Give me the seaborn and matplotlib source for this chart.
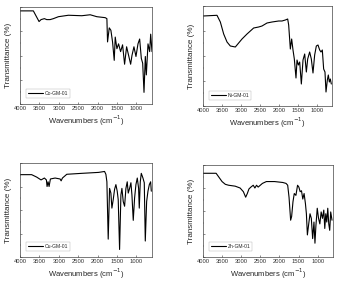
import numpy as np
import pandas as pd
import matplotlib
matplotlib.use("Agg")
import matplotlib.pyplot as plt
from matplotlib.ticker import MultipleLocator
import seaborn as sns

# FTIR spectra (wavenumber, transmittance in % of axis height)
co_wn = [4000, 3656, 3509, 3458, 3372, 3311, 3225, 3140, 3010, 2752, 2408, 2192, 2020, 1805, 1762,
         1745, 1701, 1659, 1616, 1573, 1547, 1504, 1461, 1409, 1358, 1306, 1254, 1202, 1150, 1116,
         1065, 1013, 961, 918, 875, 840, 806, 772, 746, 703, 660, 634, 600]
co_t = [96, 96, 85, 87, 88, 87, 87, 88, 90, 91.5, 91, 92, 90, 89, 88,
        64, 78.5, 76, 64, 45, 69, 57, 62, 54, 61, 41, 59, 50, 41, 50,
        59, 49, 62, 67, 47, 42, 12, 49, 30, 62, 54, 72, 54]

ni_wn = [4000, 3631, 3543, 3455, 3367, 3280, 3148, 3060, 2972, 2840, 2665, 2533, 2445, 2313, 2181,
         2006, 1918, 1830, 1768, 1742, 1698, 1663, 1628, 1593, 1549, 1522, 1487, 1452, 1408, 1364,
         1320, 1276, 1241, 1189, 1145, 1101, 1057, 1013, 969, 925, 890, 855, 820, 785, 758,
         723, 697, 670, 644, 618]
ni_t = [90, 90.7, 84, 72, 64, 60, 59, 63, 67, 72, 78, 79, 80, 83, 84,
        85, 85, 86, 87, 81, 57, 67, 56, 47, 28, 46, 41, 44, 22, 46,
        52, 34, 47, 54, 47, 33, 51, 60, 61, 56, 54, 56, 37, 34, 14,
        26, 31, 24, 27, 22]

cu_wn = [4000, 3700, 3570, 3458, 3372, 3320, 3303, 3277, 3251, 3217, 3096, 2967, 2941, 2907, 2795,
         2408, 1977, 1822, 1788, 1762, 1728, 1693, 1659, 1633, 1599, 1564, 1530, 1496, 1470, 1435,
         1401, 1375, 1341, 1306, 1272, 1238, 1212, 1177, 1143, 1117, 1083, 1048, 1014, 979, 945,
         928, 902, 876, 833, 799, 773, 738, 704, 669, 635, 618]
cu_t = [87.6, 87.6, 85, 82, 84, 82, 75, 80, 75, 83, 84, 83, 81, 84, 88,
        89, 90, 91, 88, 80, 19, 73, 68, 52, 61, 72, 77, 70, 61, 8,
        66, 73, 59, 54, 73, 80, 68, 73, 79, 66, 39, 63, 77, 84, 73,
        52, 80, 89, 84, 79, 17, 59, 70, 77, 80, 70]

zn_wn = [4000, 3657, 3588, 3502, 3416, 3330, 3159, 3030, 2944, 2884, 2841, 2798, 2747, 2686, 2643,
         2600, 2557, 2446, 2343, 2128, 1914, 1828, 1785, 1750, 1708, 1682, 1647, 1613, 1570, 1527,
         1493, 1459, 1424, 1390, 1356, 1321, 1296, 1270, 1235, 1201, 1167, 1132, 1098, 1072, 1047,
         1012, 978, 944, 910, 875, 841, 815, 789, 763, 737, 711, 686, 660, 626]
zn_t = [91, 91, 87, 82, 79, 78, 77, 75, 71, 65, 69, 74, 76, 78, 75,
        78, 76, 80, 82, 82, 81, 80, 78, 65, 40, 44, 60, 69, 67, 78,
        76, 71, 72, 63, 69, 58, 47, 24, 36, 47, 42, 20, 38, 15, 34,
        53, 42, 36, 49, 42, 51, 31, 47, 38, 53, 36, 29, 49, 40]

labels = ["Co-GM-01", "Ni-GM-01", "Cu-GM-01", "Zn-GM-01"]
xticks = [4000, 3500, 3000, 2500, 2000, 1500, 1000]

sns.set_style("ticks")
plt.rcParams["font.family"] = ["Liberation Sans", "DejaVu Sans"]

W, H = 340, 284
fig = plt.figure(figsize=(W / 100, H / 100), dpi=100)

# panel boxes in pixels: left, top, right, bottom
boxes = [(20, 7, 152, 104), (203, 6, 332, 106), (20, 163, 152, 257), (203, 165, 333, 257)]
series = [(co_wn, co_t), (ni_wn, ni_t), (cu_wn, cu_t), (zn_wn, zn_t)]

for (l, t, r, b), (wn, tr), lab in zip(boxes, series, labels):
    ax = fig.add_axes([l / W, 1 - b / H, (r - l) / W, (b - t) / H])
    df = pd.DataFrame({"wn": wn, "T": tr})
    sns.lineplot(data=df, x="wn", y="T", ax=ax, color="black", lw=0.8,
                 sort=False, label=lab)
    ax.set_xlim(4000, 600)
    ax.set_ylim(0, 100)
    ax.set_xticks(xticks)
    ax.set_xticklabels([str(v) for v in xticks], fontsize=4.2)
    ax.yaxis.set_major_locator(MultipleLocator(25))
    ax.yaxis.set_minor_locator(MultipleLocator(12.5))
    ax.set_yticklabels([])
    ax.tick_params(direction="in", length=1.5, width=0.4, pad=1.5, colors="#333333")
    ax.tick_params(which="minor", direction="in", length=1, width=0.3)
    ax.set_xlabel("Wavenumbers (cm$^{-1}$)", fontsize=5.5, labelpad=1.5)
    ax.set_ylabel("Transmittance (%)", fontsize=5.8, labelpad=2.5)
    for sp in ax.spines.values():
        sp.set_linewidth(0.5)
        sp.set_color("#444444")
    leg = ax.legend(loc="lower left", fontsize=3.6, frameon=True, fancybox=False,
                    handlelength=3, borderpad=0.4, borderaxespad=1.2, handletextpad=0.3)
    leg.get_frame().set_linewidth(0.3)
    leg.get_frame().set_edgecolor("#999999")

fig.savefig("out.png", dpi=100)
